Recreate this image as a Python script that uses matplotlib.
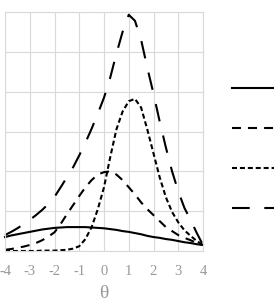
import matplotlib.pyplot as plt

theta = [-4, -3.75, -3.5, -3.25, -3, -2.75, -2.5, -2.25, -2, -1.75, -1.5, -1.25,
         -1, -0.75, -0.5, -0.25, 0, 0.25, 0.5, 0.75, 1, 1.25, 1.5, 1.75,
         2, 2.25, 2.5, 2.75, 3, 3.25, 3.5, 3.75, 4]

info_a = [0.35, 0.39, 0.42, 0.45, 0.48, 0.51, 0.54, 0.56, 0.58, 0.59, 0.6, 0.6,
          0.6, 0.6, 0.59, 0.58, 0.57, 0.55, 0.53, 0.5, 0.48, 0.45, 0.42, 0.38,
          0.35, 0.33, 0.3, 0.28, 0.25, 0.22, 0.2, 0.17, 0.15]
info_b = [0.03, 0.05, 0.08, 0.11, 0.15, 0.2, 0.27, 0.36, 0.47, 0.68, 0.92, 1.15,
          1.38, 1.6, 1.78, 1.92, 1.98, 2.0, 1.92, 1.78, 1.6, 1.42, 1.22, 1.05,
          0.9, 0.75, 0.6, 0.5, 0.4, 0.33, 0.27, 0.2, 0.15]
info_c = [0, 0, 0, 0, 0, 0, 0.01, 0.01, 0.01, 0.02, 0.03, 0.06,
          0.12, 0.3, 0.6, 1.05, 1.6, 2.35, 3.05, 3.5, 3.76, 3.82, 3.6, 3.05,
          2.45, 1.85, 1.35, 0.98, 0.72, 0.52, 0.38, 0.25, 0.15]
info_d = [0.4, 0.48, 0.57, 0.67, 0.78, 0.9, 1.03, 1.18, 1.36, 1.6, 1.85, 2.1,
          2.4, 2.72, 3.07, 3.45, 3.85, 4.35, 4.95, 5.5, 5.93, 5.78, 5.3, 4.6,
          3.95, 3.25, 2.6, 2.0, 1.5, 1.08, 0.78, 0.45, 0.15]

xticks = [-4, -3, -2, -1, 0, 1, 2, 3, 4]

plt.rcParams['font.family'] = ['Liberation Serif', 'DejaVu Serif']

fig = plt.figure(figsize=(2.74, 3.02), dpi=100)
ax = fig.add_axes([5 / 274, 1 - 251 / 302, 198 / 274, 239 / 302])

lw = 1.5
la, = ax.plot(theta, info_a, color='black', lw=lw, clip_on=False)
lb, = ax.plot(theta, info_b, color='black', lw=lw, dashes=(4.3, 3.4), clip_on=False)
lc, = ax.plot(theta, info_c, color='black', lw=lw, dashes=(2.4, 1.4), clip_on=False)
ld, = ax.plot(theta, info_d, color='black', lw=lw, dashes=(8.5, 7), clip_on=False)

ax.set_xlim(-4, 4)
ax.set_ylim(0, 6)
ax.set_xticks(xticks)
ax.set_xticklabels([str(t) for t in xticks])
ax.set_yticks(range(7))
ax.set_yticklabels([])
ax.grid(True, color='#d9d9d9', lw=0.8)
ax.set_axisbelow(True)
for s in ax.spines.values():
    s.set_color('#d9d9d9')
    s.set_linewidth(0.8)
ax.tick_params(length=0, labelsize=10.5, labelcolor='#999999', pad=10)
ax.set_xlabel('θ', fontsize=14, color='#999999', labelpad=5)

fig.legend([la, lb, lc, ld], ['', '', '', ''], loc='center left',
           bbox_to_anchor=(219 / 274, 1 - 149 / 302), frameon=False,
           handlelength=3.6, labelspacing=1.95, fontsize=10, handletextpad=0)

fig.savefig('out.png', dpi=100)
